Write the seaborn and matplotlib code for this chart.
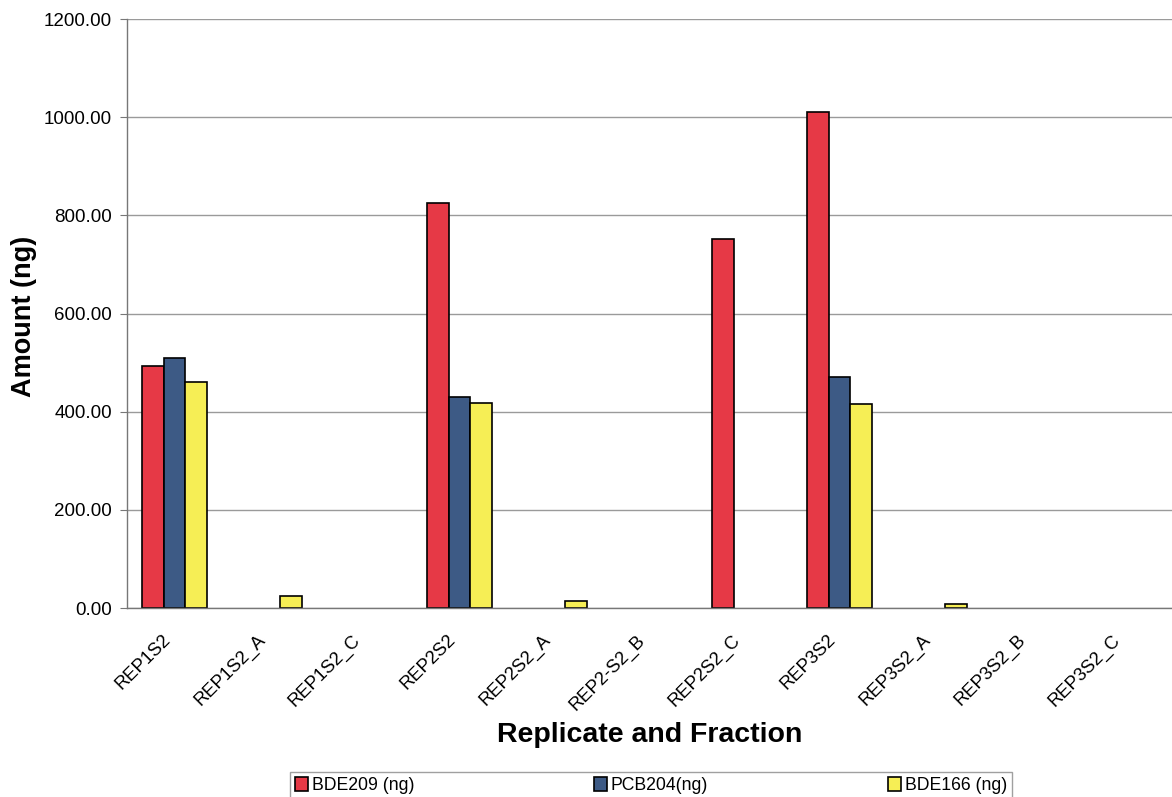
import numpy as np
import pandas as pd
import matplotlib
matplotlib.use("Agg")
import matplotlib.pyplot as plt
import matplotlib.transforms as mtransforms
import seaborn as sns

categories = ["REP1S2", "REP1S2_A", "REP1S2_C", "REP2S2", "REP2S2_A", "REP2-S2_B",
              "REP2S2_C", "REP3S2", "REP3S2_A", "REP3S2_B", "REP3S2_C"]
bde209 = [493, np.nan, np.nan, 825, np.nan, np.nan, 752, 1010, np.nan, np.nan, np.nan]
pcb204 = [510, np.nan, np.nan, 430, np.nan, np.nan, np.nan, 470, np.nan, np.nan, np.nan]
bde166 = [460, 24, np.nan, 418, 15, np.nan, np.nan, 415, 9, np.nan, np.nan]
series_names = ["BDE209 (ng)", "PCB204(ng)", "BDE166 (ng)"]
colors = ["#E63946", "#3D5A85", "#F6EE55"]
yticks = [0, 200, 400, 600, 800, 1000, 1200]

rows = []
for name, vals in zip(series_names, [bde209, pcb204, bde166]):
    for c, v in zip(categories, vals):
        rows.append({"cat": c, "series": name, "val": v})
df = pd.DataFrame(rows)

sns.set_style("white")
plt.rcParams["font.family"] = ["Liberation Sans", "DejaVu Sans"]
plt.rcParams["text.color"] = "black"
plt.rcParams["axes.labelcolor"] = "black"
plt.rcParams["xtick.color"] = "black"
plt.rcParams["ytick.color"] = "black"

fig = plt.figure(figsize=(11.72, 7.97), dpi=100)
ax = fig.add_axes([0.1084, 0.237, 0.8916, 0.739])

sns.barplot(data=df, x="cat", y="val", hue="series", order=categories,
            hue_order=series_names, palette=colors, width=0.69,
            edgecolor="black", linewidth=1.2, ax=ax, legend=True, saturation=1)

ax.set_ylim(0, 1200)
ax.set_xlim(-0.5, len(categories) - 0.5)
ax.set_yticks(yticks)
ax.set_yticklabels([f"{v:.2f}" for v in yticks], fontsize=13.5)
ax.yaxis.grid(True, color="#9a9a9a", linewidth=1)
ax.set_axisbelow(True)

ax.set_xticks(range(len(categories)))
ax.set_xticklabels(categories, rotation=45, ha="right", rotation_mode="anchor", fontsize=13.2)
ax.tick_params(axis="x", which="major", length=0, pad=24)
offset = mtransforms.ScaledTranslation(-13 / 100, 10 / 100, fig.dpi_scale_trans)
for lab in ax.get_xticklabels():
    lab.set_transform(lab.get_transform() + offset)
ax.set_xticks(np.arange(-0.5, len(categories), 1), minor=True)
ax.tick_params(axis="x", which="minor", length=5, color="#777777", direction="out")
ax.tick_params(axis="y", length=5, color="#777777", labelcolor="black", direction="out", left=True, pad=6)

for s in ["top", "right"]:
    ax.spines[s].set_visible(False)
for s in ["left", "bottom"]:
    ax.spines[s].set_color("#777777")
    ax.spines[s].set_linewidth(1)

ax.set_ylabel("Amount (ng)", fontsize=19.5, fontweight="bold")
ax.yaxis.set_label_coords(-0.086, 0.495)
ax.set_xlabel("Replicate and Fraction", fontsize=20.5, fontweight="bold", labelpad=6)

handles, labels = ax.get_legend_handles_labels()
ax.legend_.remove()
leg = fig.legend(handles, labels, loc="lower left", bbox_to_anchor=(0.2396, -0.014),
                 ncol=3, frameon=True, fontsize=12.7, columnspacing=10.2,
                 handlelength=0.75, handleheight=0.85, handletextpad=0.2,
                 borderpad=0.3, fancybox=False, edgecolor="#888888")
leg.get_frame().set_linewidth(1)

fig.savefig("out.png", dpi=100)
